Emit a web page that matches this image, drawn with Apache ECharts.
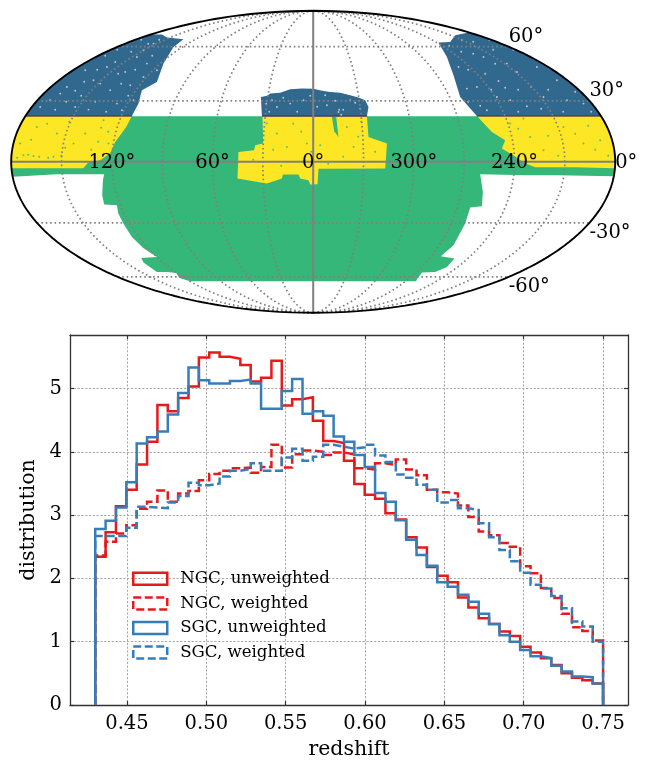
<!DOCTYPE html>
<html><head><meta charset="utf-8">
<style>html,body{margin:0;padding:0;background:#fff}#c{width:647px;height:760px}</style>
<script src="https://cdn.jsdelivr.net/npm/echarts@6/dist/echarts.min.js"></script>
</head><body><div id="c"></div>
<script>
// ---- histogram data: 49 bins between 0.43 and 0.75
const zMin = 0.43, zMax = 0.75;
const ngcUnweighted = [2.34,2.73,3.14,3.40,3.80,4.16,4.74,4.64,4.85,5.03,5.49,5.57,5.50,5.47,5.37,5.11,5.17,5.44,4.73,4.83,4.86,4.49,4.17,4.14,3.86,3.49,3.32,3.26,3.03,2.93,2.65,2.49,2.18,2.04,1.94,1.70,1.54,1.37,1.28,1.16,1.09,0.92,0.83,0.74,0.63,0.50,0.43,0.39,0.34];
const ngcWeighted = [2.36,2.58,2.71,2.84,3.10,3.21,3.39,3.21,3.34,3.38,3.55,3.65,3.70,3.74,3.75,3.67,3.76,4.11,3.75,3.96,4.02,4.00,3.95,3.99,3.96,3.74,3.72,3.82,3.79,3.88,3.72,3.63,3.40,3.36,3.34,3.15,2.97,2.74,2.68,2.56,2.50,2.19,2.08,1.85,1.69,1.44,1.23,1.17,1.02];
const sgcUnweighted = [2.78,2.91,3.12,3.52,4.13,4.23,4.32,4.59,4.93,5.33,5.13,5.08,5.08,5.12,5.14,5.08,4.68,4.68,4.96,5.15,4.60,4.64,4.57,4.24,4.16,3.95,3.76,3.35,3.21,2.92,2.61,2.37,2.20,1.94,1.87,1.74,1.63,1.44,1.28,1.10,1.00,0.87,0.77,0.74,0.62,0.53,0.45,0.44,0.34];
const sgcWeighted = [2.67,2.67,2.67,2.80,3.13,3.12,3.11,3.20,3.30,3.51,3.47,3.50,3.61,3.70,3.73,3.82,3.70,3.70,3.91,4.05,3.86,3.92,4.11,4.08,4.05,4.07,4.11,3.94,3.84,3.64,3.59,3.48,3.40,3.20,3.24,3.11,3.08,2.87,2.65,2.45,2.27,2.09,1.90,1.84,1.72,1.53,1.32,1.24,1.00];
const xTicks = [0.45,0.50,0.55,0.60,0.65,0.70,0.75];
const yTicks = [0,1,2,3,4,5];

// ---- sky map: footprint outlines in the Mollweide plane (semi-axes 302 x 151)
const greenBottom = [[300,-14.5],[243.7,-13.5],[213.7,-13.5],[167,-12.5],[169.7,-30.2],[168.7,-44.5],[157,-45.8],[152,-61.8],[140.3,-83.5],[127.7,-94.5],[141.3,-96.8],[133.7,-105.2],[122,-110.2],[108.7,-110.8],[103.7,-117.5],[103,-119.5],[-123,-119.5],[-133.7,-116.2],[-137,-111.2],[-146.3,-110.2],[-156.3,-110.2],[-169.7,-100.8],[-172,-96.2],[-156.3,-95.2],[-170,-86.2],[-181.3,-75.2],[-190,-61.5],[-195,-51.5],[-196.3,-43.5],[-209,-42.8],[-211,-33.5],[-210.3,-18.5],[-209,-12.5],[-256,-12.5]];
const yellowLeft = [[-181.3,45.8],[-187,34.8],[-198,19.8],[-203,8.5],[-213,1.5],[-224.7,-0.5],[-230,-6.5]];
const yellowRight = [[163.7,45.8],[178.7,29.8],[192,21.5],[188.7,13.2],[200,6.5],[212,-1.5],[222,-5.5],[262,-5.5]];
const yellowCentre = [[-50.7,45.5],[-50,18.2],[-58,16.5],[-59,11.5],[-74.7,9.8],[-75.7,-16.8],[-46.3,-21.8],[-31.3,-16.8],[-30.3,-12.8],[-14.7,-12.8],[-13,-16.8],[-4.7,-18.5],[-3,-22.8],[4.3,-22.5],[5.3,-7],[72,-6.8],[73,6.5],[73.7,18.2],[55.3,24.8],[53.7,45.5]];
const greenSliver = [[18.7,45],[23,45],[25.3,24.8],[21,30.5]];
const blueLeft = [[-181.3,45.8],[-174.7,58.2],[-171.3,71.5],[-156.3,79.8],[-149.7,98.2],[-139.7,114.8],[-129.7,122.5],[-146.3,124.2],[-151.3,127.2]];
const blueRight = [[163.7,45.8],[157,53.2],[147,64.8],[140.3,86.5],[133.7,104.8],[125.3,119.2],[137,119.8],[142,126.5],[155.3,129.2]];
const blueCentre = [[-51.3,45.5],[-52.3,64.8],[-46,66],[-43,68.2],[-33,69],[-23,72.5],[-11.3,73.2],[0,73],[9,71],[17,69.8],[27,69],[37,66.5],[46,64],[52,61.5],[55.3,54.8],[53.7,45.5]];
const holes = [[-224.7,52.2],[-169.7,111.5],[-188,89.8],[-169.7,84.8],[-219.7,81.5],[-263,61.5],[-238,54.8],[-196.3,58.2],[-179.7,61.5],[-156.3,91.5],[-213,78.2],[-228,91.5],[-253,68.2],[-203,71.5],[-166.3,98.2],[-176.3,104.8],[-159.7,118.2],[-206.3,94.8],[-246.3,74.8],[-273,54.8],[-183,76.5],[-198,99.8],[-191.3,51.5],[185.3,80.8],[213.7,55.5],[193.7,98.2],[163.7,74.8],[230.3,64.8],[243.7,81.5],[203.7,89.8],[153.7,73.2],[173.7,51.5],[253.7,61.5],[170.3,104.8],[148.7,121.5],[210.3,108.2],[223.7,94.8],[270.3,58.2],[197,61.5],[145.3,94.8],[183.7,64.8],[-36.3,54.8],[-41.3,61.5],[-23,58.2],[-9.7,61.5],[12,66.5],[13.7,56.5],[25.3,49.8],[47,53.2],[37,61.5],
  [-258,52],[-247,60],[-232,66],[-218,60],[-207,50],[-176,52],[-172,66],[-185,66],[-192,78],[-238,71],[-261,79],[-275,66],[-285,50],[-229,80],[-216,92],[-195,88],[-178,92],[-161,106],[-165,118],[-182,110],[-196,112],[-208,106],[-154,122],[-172,122],
  [155,60],[167,56],[178,72],[192,74],[205,72],[218,75],[235,72],[262,70],[278,50],[250,50],[228,53],[205,50],[155,92],[172,88],[182,98],[160,108],[180,112],[200,112],[218,106],[236,94],[250,86],[262,79],[148,110],[136,116],[160,120],[176,122],
  [-44,50],[-30,64],[-16,50],[-3,66],[4,55],[22,61],[30,52],[42,59],[-47,58],[28,47],[26,52]];
const greenSpecks = [[-209.7,41.5],[-279.7,5.8],[-259.7,5],[-289.7,6.5],[-204.7,18.2],[-228,28.2],[-256.3,28.2],[-276.3,34.8],[-293,18.2],[-239.7,18.2],[-6.3,18.2],[-36.3,28.2],[-26.3,14.8],[-46.3,38.2],[7,16.5],[33.7,34.8],[40.3,14.8],[197,38.2],[217,24.8],[250.3,34.8],[270.3,18.2],[287,21.5],[230.3,11.5],[210.3,43.2],
  [-285,7],[-274,5],[-265,4],[-252,6],[-296,4],[-282,22],[-266,38],[-244,40],[-222,12],[-212,34],[-248,14],[-215,20],[-205,30],[-40,12],[-12,30],[-20,38],[-2,10],[-32,-4],[-60,2],[30,5],[45,25],[62,10],[15,-2],[48,40],[205,33],[235,26],[262,28],[282,12],[245,6],[275,36],[295,6]];
const raLabels = ['120°','60°','0°','300°','240°'];
const raPlaneLon = [-120,-60,0,60,120];
const decLabels = ['60°','30°','-30°','-60°'];
const decValues = [60,30,-30,-60];

const A = 302, B = 151;
const VIRIDIS_BLUE = '#31688e', VIRIDIS_GREEN = '#35b779', VIRIDIS_YELLOW = '#fde725';
const RED = '#e41a1c', BLUE = '#377eb8';
const SERIF = '"DejaVu Serif"';

function moll(lon, lat) {
  const phi = lat * Math.PI / 180;
  let th = phi;
  if (Math.abs(lat) < 90) {
    for (let i = 0; i < 60; i++) {
      th -= (2 * th + Math.sin(2 * th) - Math.PI * Math.sin(phi)) / (2 + 2 * Math.cos(2 * th));
    }
  }
  return [A * (lon / 180) * Math.cos(th), B * Math.sin(th)];
}
function arc(side, y1, y2) {
  const out = [], n = 40;
  for (let i = 0; i <= n; i++) {
    const y = y1 + (y2 - y1) * i / n;
    out.push([side * A * Math.sqrt(1 - (y / B) * (y / B)), y]);
  }
  return out;
}
const regions = [
  { pts: arc(-1, -15, 45.5).concat(arc(1, 45.5, -15), greenBottom), color: VIRIDIS_GREEN },
  { pts: yellowLeft.concat(arc(-1, -6.5, 45.8)), color: VIRIDIS_YELLOW },
  { pts: yellowRight.concat(arc(1, -6.5, 45.8)), color: VIRIDIS_YELLOW },
  { pts: yellowCentre, color: VIRIDIS_YELLOW },
  { pts: greenSliver, color: VIRIDIS_GREEN },
  { pts: blueLeft.concat(arc(-1, 127.2, 45.8)), color: VIRIDIS_BLUE },
  { pts: blueRight.concat(arc(1, 129.2, 45.8)), color: VIRIDIS_BLUE },
  { pts: blueCentre, color: VIRIDIS_BLUE }
];

function stepLine(values) {
  const n = values.length, pts = [[zMin, 0]];
  values.forEach((v, i) => {
    pts.push([zMin + (zMax - zMin) * i / n, v]);
    pts.push([zMin + (zMax - zMin) * (i + 1) / n, v]);
  });
  pts.push([zMax, 0]);
  return pts;
}
function histSeries(name, values, color, dashed, z) {
  return {
    name, type: 'line', xAxisIndex: 1, yAxisIndex: 1, data: stepLine(values),
    showSymbol: false, symbol: 'none', z, silent: true, animation: false,
    lineStyle: { color, width: 2.5, type: dashed ? [8.5, 3.5] : 'solid', join: 'miter', cap: 'butt' },
    itemStyle: { color }
  };
}
function mapLine(data, color, width, type, z) {
  return { type: 'line', xAxisIndex: 0, yAxisIndex: 0, data, showSymbol: false, symbol: 'none', z, silent: true,
    clip: false, animation: false, lineStyle: { color, width, type, cap: 'butt' } };
}

const series = [];
series.push({
  type: 'custom', xAxisIndex: 0, yAxisIndex: 0, z: 1, silent: true, animation: false, clip: false,
  data: regions.map((r, i) => [i]),
  renderItem(params, api) {
    const r = regions[params.dataIndex];
    return { type: 'polygon', shape: { points: r.pts.map(p => api.coord(p)) }, style: { fill: r.color } };
  }
});
series.push(mapLine([[-A * Math.sqrt(1 - (45.7 / B) * (45.7 / B)), 45.7], [-181.3, 45.7]], '#4b1d55', 1, 'solid', 2));
series.push(mapLine([[-51, 45.7], [54, 45.7]], '#4b1d55', 1, 'solid', 2));
series.push(mapLine([[163.7, 45.7], [A * Math.sqrt(1 - (45.7 / B) * (45.7 / B)), 45.7]], '#4b1d55', 1, 'solid', 2));
series.push({ type: 'scatter', xAxisIndex: 0, yAxisIndex: 0, data: holes, symbolSize: 1.9, z: 3, silent: true, animation: false, itemStyle: { color: '#e6dbe6' } });
series.push({ type: 'scatter', xAxisIndex: 0, yAxisIndex: 0, data: greenSpecks, symbolSize: 2, z: 3, silent: true, animation: false, itemStyle: { color: VIRIDIS_GREEN } });

// graticule every 30 degrees
for (let lon = -150; lon <= 150; lon += 30) {
  if (lon === 0) continue;
  const d = [];
  for (let lat = -90; lat <= 90; lat += 2) d.push(moll(lon, lat));
  series.push(mapLine(d, '#808080', 1.7, [1.6, 2.8], 4));
}
[-60, -30, 30, 60].forEach(lat => {
  const d = [];
  for (let lon = -180; lon <= 180; lon += 10) d.push(moll(lon, lat));
  series.push(mapLine(d, '#808080', 1.7, [1.6, 2.8], 4));
});
series.push(mapLine([[-A, 0], [A, 0]], '#808080', 2, 'solid', 5));
series.push(mapLine([[0, -B], [0, B]], '#808080', 2, 'solid', 5));
const rim = [];
for (let lat = -90; lat <= 90; lat += 1) rim.push(moll(-180, lat));
for (let lat = 90; lat >= -90; lat -= 1) rim.push(moll(180, lat));
series.push(mapLine(rim, '#000', 1.9, 'solid', 6));

const labelBase = { show: true, fontFamily: SERIF, fontSize: 19.5, color: '#000', textBorderWidth: 0, textBorderColor: 'transparent', opacity: 1 };
series.push({
  type: 'scatter', xAxisIndex: 0, yAxisIndex: 0, symbolSize: 0, z: 7, silent: true, clip: false, animation: false,
  itemStyle: { opacity: 1 },
  data: raLabels.map((t, i) => ({ value: moll(raPlaneLon[i], 0), label: { ...labelBase, formatter: t, position: 'inside', align: 'center', verticalAlign: 'middle', offset: [0, 1.5] } }))
    .concat([{ value: moll(180, 0), label: { ...labelBase, formatter: '0°', position: 'inside', align: 'left', verticalAlign: 'middle', offset: [0, 1.5] } }])
    .concat(decLabels.map((t, i) => ({ value: moll(180, decValues[i]), label: { ...labelBase, formatter: t, position: 'inside', align: 'left', verticalAlign: decValues[i] > 0 ? 'bottom' : 'top' } })))
});

series.push(histSeries('NGC, unweighted', ngcUnweighted, RED, false, 10));
series.push(histSeries('NGC, weighted', ngcWeighted, RED, true, 11));
series.push(histSeries('SGC, unweighted', sgcUnweighted, BLUE, false, 12));
series.push(histSeries('SGC, weighted', sgcWeighted, BLUE, true, 13));

const legendIcon = (name, color, dashed) => ({
  name, icon: 'rect',
  itemStyle: { color: 'transparent', borderColor: color, borderWidth: 2.5, borderType: dashed ? [8, 3.5] : 'solid' },
  lineStyle: { width: 0, opacity: 0 }
});

const hiddenAxis = (min, max, gi) => ({ type: 'value', gridIndex: gi, min, max, show: false });
const boxColor = '#333';
const xCommon = { type: 'value', gridIndex: 1, min: 0.4141, max: 0.7657, axisLine: { onZero: false, lineStyle: { color: boxColor, width: 1.3 } } };
const yCommon = { type: 'value', gridIndex: 1, min: 0, max: 5.845, axisLine: { onZero: false, lineStyle: { color: boxColor, width: 1.3 } } };
const tick = values => ({ show: true, inside: true, length: 4, customValues: values, lineStyle: { color: '#333', width: 1.2 } });
const gridLine = { show: true, lineStyle: { color: '#a8a8a8', width: 1, type: [2.2, 1.6] } };

const option = {
  backgroundColor: '#fff',
  animation: false,
  grid: [
    { left: 11.2, top: 10.8, width: 604, height: 302, containLabel: false, outerBoundsMode: 'none' },
    { left: 70, top: 335, width: 558, height: 370, containLabel: false, outerBoundsMode: 'none' }
  ],
  xAxis: [
    hiddenAxis(-A, A, 0),
    { ...xCommon, position: 'bottom', axisTick: tick(xTicks), splitLine: gridLine,
      axisLabel: { show: true, customValues: xTicks, margin: 9, fontFamily: SERIF, fontSize: 19.5, color: '#000', formatter: v => v.toFixed(2) },
      name: 'redshift', nameLocation: 'middle', nameGap: 34, nameTextStyle: { fontFamily: SERIF, fontSize: 20.5, color: '#000' } },
    { ...xCommon, position: 'top', axisTick: tick(xTicks), splitLine: { show: false }, axisLabel: { show: false } }
  ],
  yAxis: [
    hiddenAxis(-B, B, 0),
    { ...yCommon, position: 'left', axisTick: tick(yTicks), splitLine: gridLine,
      axisLabel: { show: true, customValues: yTicks, margin: 8, fontFamily: SERIF, fontSize: 19.5, color: '#000' },
      name: 'distribution', nameLocation: 'middle', nameGap: 30, nameRotate: 90, nameTextStyle: { fontFamily: SERIF, fontSize: 20.5, color: '#000' } },
    { ...yCommon, position: 'right', axisTick: tick(yTicks), splitLine: { show: false }, axisLabel: { show: false } }
  ],
  legend: {
    show: true, orient: 'vertical', left: 127, top: 565, itemWidth: 34, itemHeight: 12, itemGap: 7, selectedMode: false,
    textStyle: { fontFamily: SERIF, fontSize: 16.6, color: '#000', padding: [0, 0, 0, 8], height: 17.6, lineHeight: 17.6 },
    data: [legendIcon('NGC, unweighted', RED, false), legendIcon('NGC, weighted', RED, true),
           legendIcon('SGC, unweighted', BLUE, false), legendIcon('SGC, weighted', BLUE, true)]
  },
  series
};
const chart = echarts.init(document.getElementById('c'), null, { renderer: 'canvas' });
chart.setOption(option);
</script></body></html>
